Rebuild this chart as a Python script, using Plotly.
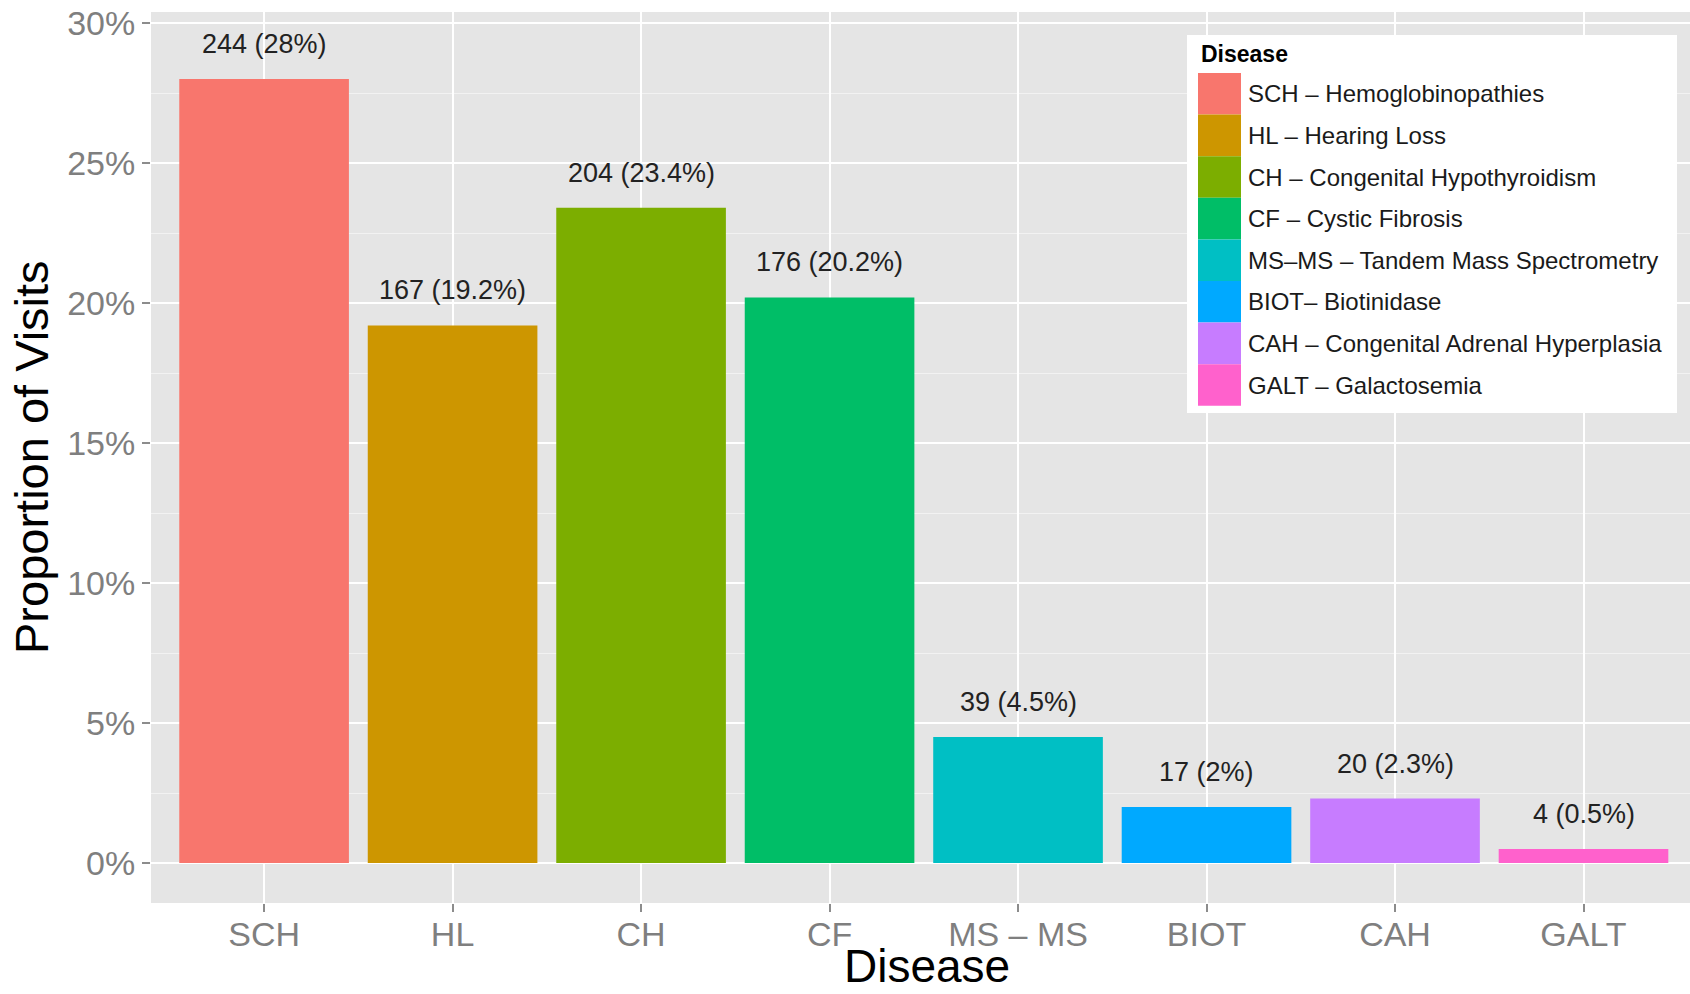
import plotly.graph_objects as go

# Newborn screening follow-up visits by disease
categories = ["SCH", "HL", "CH", "CF", "MS – MS", "BIOT", "CAH", "GALT"]
visit_counts = [244, 167, 204, 176, 39, 17, 20, 4]
visit_pct = [28, 19.2, 23.4, 20.2, 4.5, 2, 2.3, 0.5]
legend_labels = [
    "SCH – Hemoglobinopathies",
    "HL – Hearing Loss",
    "CH – Congenital Hypothyroidism",
    "CF – Cystic Fibrosis",
    "MS–MS – Tandem Mass Spectrometry",
    "BIOT– Biotinidase",
    "CAH – Congenital Adrenal Hyperplasia",
    "GALT – Galactosemia",
]
bar_colors = ["#F8766D", "#CD9600", "#7CAE00", "#00BE67",
              "#00BFC4", "#00A9FF", "#C77CFF", "#FF61CC"]
y_ticks = [0, 5, 10, 15, 20, 25, 30]

W, H = 1690, 994
L, R, T, B = 151, 0, 12, 91
plot_w = W - L - R
plot_h = H - T - B
FONT = "Liberation Sans, Arial, sans-serif"


def px_x(x):
    return (x - L) / plot_w


def px_y(y):
    return (H - B - y) / plot_h


fig = go.Figure()
fig.add_trace(go.Bar(
    x=categories,
    y=visit_pct,
    marker=dict(color=bar_colors, line=dict(width=0)),
    width=0.9,
    showlegend=False,
    hoverinfo="x+y",
))

annotations = []
for cat, n, p in zip(categories, visit_counts, visit_pct):
    annotations.append(dict(
        x=cat, y=p, xref="x", yref="y",
        text=f"{n} ({p:g}%)",
        showarrow=False, yshift=35,
        font=dict(family=FONT, size=27, color="#222222"),
        xanchor="center", yanchor="middle",
    ))

# axis titles
annotations.append(dict(
    x=px_x(32), y=px_y(457), xref="paper", yref="paper",
    text="Proportion of Visits", textangle=-90, showarrow=False,
    font=dict(family=FONT, size=47, color="#000000"),
    xanchor="center", yanchor="middle",
))
annotations.append(dict(
    x=px_x(927), y=px_y(993), xref="paper", yref="paper",
    text="Disease", showarrow=False,
    font=dict(family=FONT, size=46, color="#000000"),
    xanchor="center", yanchor="bottom", borderpad=0,
))

# legend block
shapes = []
box_l, box_t, box_r, box_b = 1187, 35, 1677, 413
shapes.append(dict(type="rect", xref="paper", yref="paper",
                   x0=px_x(box_l), x1=px_x(box_r),
                   y0=px_y(box_b), y1=px_y(box_t),
                   fillcolor="#FFFFFF", line=dict(width=0), layer="above"))
annotations.append(dict(
    x=px_x(1199), y=px_y(54), xref="paper", yref="paper",
    text="<b>Disease</b>", showarrow=False,
    font=dict(family=FONT, size=23, color="#000000"),
    xanchor="left", yanchor="middle",
))
key_top, key_h = 73, 41.6
for i, (lab, col) in enumerate(zip(legend_labels, bar_colors)):
    y0 = key_top + i * key_h
    shapes.append(dict(type="rect", xref="paper", yref="paper",
                       x0=px_x(1198), x1=px_x(1241),
                       y0=px_y(y0 + key_h), y1=px_y(y0),
                       fillcolor=col, line=dict(width=0), layer="above"))
    annotations.append(dict(
        x=px_x(1246), y=px_y(y0 + key_h / 2), xref="paper", yref="paper",
        text=lab, showarrow=False,
        font=dict(family=FONT, size=24, color="#1a1a1a"),
        xanchor="left", yanchor="middle",
    ))

fig.update_layout(
    width=W, height=H,
    margin=dict(l=L, r=R, t=T, b=B, pad=0),
    paper_bgcolor="#FFFFFF",
    plot_bgcolor="#E5E5E5",
    bargap=0.1,
    annotations=annotations,
    shapes=shapes,
    xaxis=dict(
        type="category",
        range=[-0.6, 7.565],
        showgrid=True, gridcolor="#FFFFFF", gridwidth=2,
        ticks="outside", ticklen=8, tickwidth=2, tickcolor="#8c8c8c",
        ticklabelstandoff=-7,
        tickfont=dict(family=FONT, size=34, color="#7f7f7f"),
        showline=False, zeroline=False,
    ),
    yaxis=dict(
        range=[-1.4286, 30.393],
        tickvals=y_ticks,
        ticktext=[f"{v}%" for v in y_ticks],
        showgrid=True, gridcolor="#FFFFFF", gridwidth=2,
        minor=dict(dtick=2.5, tick0=0, showgrid=True,
                   gridcolor="#F2F2F2", gridwidth=1, ticks=""),
        ticks="outside", ticklen=8, tickwidth=2, tickcolor="#8c8c8c",
        tickfont=dict(family=FONT, size=34, color="#7f7f7f"),
        showline=False, zeroline=False,
    ),
)

fig.write_html("out.html")
